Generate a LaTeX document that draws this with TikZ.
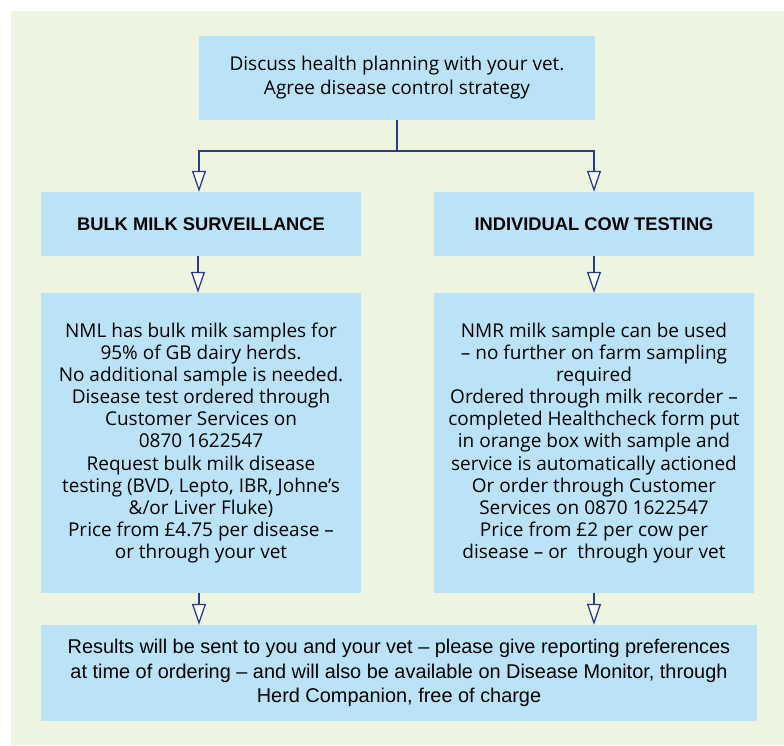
\documentclass[tikz,border=0pt]{standalone}
\usepackage{fontspec}
\setmainfont{Open Sans}
\newfontfamily\narrowfont{Liberation Sans}
\usetikzlibrary{arrows.meta}
\definecolor{bggreen}{HTML}{EDF5E1}
\definecolor{boxblue}{HTML}{BBE3F7}
\definecolor{linkblue}{HTML}{2B3A8C}
\tikzset{
  box/.style={fill=boxblue, draw=none, inner sep=0pt, align=center, text=black},
  link/.style={draw=linkblue, line width=2.6pt,
    -{Triangle[length=21pt, width=14pt, fill=white, line width=1.3pt]}},
  plain/.style={draw=linkblue, line width=2.6pt},
}
\begin{document}
\begin{tikzpicture}[x=1pt, y=-1pt]
\useasboundingbox (0,0) rectangle (784,745);
\fill[bggreen] (11,11) rectangle (784,745);

\node[box, minimum width=396pt, minimum height=84pt, font=\fontsize{19}{24}\selectfont] (top) at (397,78)
  {Discuss health planning with your vet.\\Agree disease control strategy};

\node[box, minimum width=320pt, minimum height=64pt, font=\narrowfont\fontsize{18.3}{22}\selectfont\bfseries] (bulk) at (201,224)
  {BULK MILK SURVEILLANCE};
\node[box, minimum width=320pt, minimum height=64pt, font=\narrowfont\fontsize{18.3}{22}\selectfont\bfseries] (indiv) at (594,224)
  {INDIVIDUAL COW TESTING};

\node[box, minimum width=320pt, minimum height=300pt, font=\fontsize{19}{22.1}\selectfont] (bulkd) at (201,443)
  {NML has bulk milk samples for\\
   95\% of GB dairy herds.\\
   No additional sample is needed.\\
   Disease test ordered through\\
   Customer Services on\\
   0870 1622547\\
   Request bulk milk disease\\
   testing (BVD, Lepto, IBR, Johne’s\\
   \&/or Liver Fluke)\\
   Price from £4.75 per disease –\\
   or through your vet};

\node[box, minimum width=320pt, minimum height=300pt, font=\fontsize{19}{22.1}\selectfont] (indivd) at (594,443)
  {NMR milk sample can be used\\
   – no further on farm sampling\\
   required\\
   Ordered through milk recorder –\\
   completed Healthcheck form put\\
   in orange box with sample and\\
   service is automatically actioned\\
   Or order through Customer\\
   Services on 0870 1622547\\
   Price from £2 per cow per\\
   disease – or\ \ through your vet};

\node[box, minimum width=716pt, minimum height=96pt, font=\narrowfont\fontsize{19.9}{24.6}\selectfont] (res) at (399,673)
  {Results will be sent to you and your vet – please give reporting preferences\\
   at time of ordering – and will also be available on Disease Monitor, through\\
   Herd Companion, free of charge};

\coordinate (j) at (397,151);
\draw[plain] (top.south) -- (j);
\draw[link] (j) -| ([xshift=-2pt]bulk.north);
\draw[link] (j) -| (indiv.north);
\draw[link] ([xshift=-3pt]bulk.south) -- ([xshift=-3pt]bulkd.north);
\draw[link] (indiv.south) -- (indivd.north);
\draw[link] ([xshift=-2pt]bulkd.south) -- ([xshift=-2pt]bulkd.south |- res.north);
\draw[link] (indivd.south) -- (indivd.south |- res.north);
\end{tikzpicture}
\end{document}
